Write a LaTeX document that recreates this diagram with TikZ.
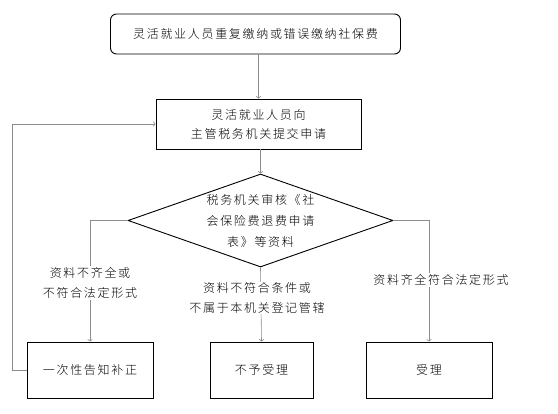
\documentclass[tikz,border=0pt]{standalone}
\usepackage{fontspec}
\newfontfamily\cjk[LetterSpace=14]{Noto Sans CJK SC Light}
\usetikzlibrary{shapes.geometric,arrows.meta}
\definecolor{linegray}{RGB}{140,140,140}
\tikzset{
  box/.style={draw=black, line width=0.9pt, inner sep=0pt, font=\cjk\fontsize{12}{19}\selectfont, align=center},
  lbl/.style={inner sep=1pt, fill=white, font=\cjk\fontsize{12}{20}\selectfont, align=center},
  conn/.style={draw=linegray, line width=0.6pt, -{To[length=2.5pt,width=5pt]}},
}
\begin{document}
\begin{tikzpicture}[x=1pt,y=-1pt]
\useasboundingbox (0,0) rectangle (558,414);
\node[box, rounded corners=6pt, minimum width=290pt, minimum height=40pt] (top) at (255.5,34) {灵活就业人员重复缴纳或错误缴纳社保费};
\node[box, minimum width=205pt, minimum height=50pt] (apply) at (258.5,124) {灵活就业人员向\\主管税务机关提交申请};
\node[draw=black, line width=0.9pt, diamond, inner sep=0pt, minimum width=265pt, minimum height=93pt] (dia) at (260.5,220.5) {};
\node[font=\cjk\fontsize{12}{21}\selectfont, align=center, inner sep=0pt] (diatext) at (dia.center) {税务机关审核《社\\会保险费退费申请\\表》等资料};
\node[box, minimum width=126pt, minimum height=56pt] (fix) at (90,370) {一次性告知补正};
\node[box, minimum width=103pt, minimum height=56pt] (reject) at (261.5,370) {不予受理};
\node[box, minimum width=126pt, minimum height=56pt] (accept) at (429,370) {受理};

\draw[conn] (apply.north |- top.south) -- (apply.north);
\draw[conn] (apply.south -| dia.north) -- (dia.north);
\draw[conn] (dia.west) -| (fix.north);
\draw[conn] (dia.south) -- (reject.north);
\draw[conn] (dia.east) -| (accept.north);
\draw[conn] (fix.west) -- ++(-14,0) |- (apply.west);

\node[lbl] (l1) at (90,283) {资料不齐全或\\不符合法定形式};
\node[lbl] (l2) at (257,298) {资料不符合条件或\\不属于本机关登记管辖};
\node[lbl] (l3) at (441,280) {资料齐全符合法定形式};
\end{tikzpicture}
\end{document}
